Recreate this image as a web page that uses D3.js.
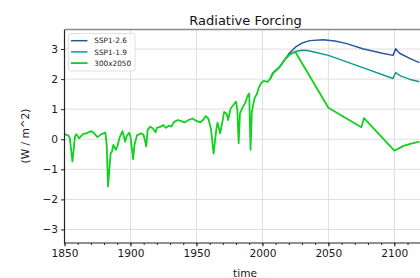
<!DOCTYPE html>
<html>
<head>
<meta charset="utf-8">
<script src="https://cdn.jsdelivr.net/npm/d3@7"></script>
<style>
  body { margin: 0; background: #fff; }
  svg { font-family: "DejaVu Sans", sans-serif; display: block; }
</style>
</head>
<body>
<div id="chart"></div>
<script>
// series data
const seriesNames = ["SSP1-2.6", "SSP1-1.9", "300x2050"];
const seriesColors = ["#2b55a3", "#10998f", "#11d11f"];

const ssp126Years = [2006, 2008, 2013, 2017, 2020, 2025, 2030, 2036, 2046, 2055, 2064, 2076, 2090, 2099, 2101, 2104, 2112, 2119];
const ssp126Values = [2.02, 2.20, 2.40, 2.65, 2.84, 3.06, 3.20, 3.28, 3.31, 3.27, 3.18, 3.01, 2.87, 2.79, 3.01, 2.86, 2.68, 2.55];

const ssp119Years = [2006, 2008, 2013, 2017, 2020, 2025, 2030, 2034, 2040, 2050, 2075, 2099, 2101, 2105, 2112, 2119];
const ssp119Values = [2.02, 2.20, 2.40, 2.65, 2.80, 2.92, 2.96, 2.95, 2.89, 2.79, 2.40, 2.02, 2.22, 2.10, 1.99, 1.91];

const customYears = [1850, 1853, 1854, 1856, 1858, 1859, 1861, 1864, 1867, 1870, 1872, 1875, 1878, 1881, 1882, 1883,
  1885, 1886, 1887, 1889, 1890, 1892, 1894, 1896, 1897, 1899, 1900, 1902, 1903, 1905, 1907, 1908, 1910, 1912, 1913,
  1915, 1917, 1919, 1920, 1923, 1925, 1927, 1929, 1931, 1933, 1936, 1938, 1941, 1944, 1947, 1950, 1953, 1955, 1957,
  1959, 1961, 1963, 1965, 1966, 1968, 1970, 1971, 1973, 1974, 1976, 1978, 1980, 1981, 1982, 1983, 1985, 1987, 1989,
  1990, 1991, 1992, 1994, 1996, 1997, 1999, 2001, 2004, 2006, 2008, 2013, 2017, 2021, 2025, 2050, 2075, 2077, 2100,
  2107, 2112, 2119];
const customValues = [0.17, 0.12, 0.05, -0.74, 0.10, 0.17, 0.03, 0.17, 0.20, 0.27, 0.22, 0.07, 0.17, 0.22, -0.19, -1.57,
  -0.46, -0.41, -0.19, -0.35, -0.24, 0.09, 0.27, -0.08, 0.09, 0.22, 0.09, -0.66, -0.19, 0.14, 0.17, 0.20, 0.14, -0.24, 0.31,
  0.42, 0.36, 0.23, 0.38, 0.42, 0.47, 0.38, 0.45, 0.42, 0.58, 0.64, 0.61, 0.56, 0.64, 0.69, 0.61, 0.56, 0.64, 0.77,
  0.69, 0.35, -0.48, 0.31, 0.55, 0.20, 0.66, 0.91, 0.84, 0.64, 1.03, 1.14, 1.25, 0.97, -0.13, 0.86, 1.06, 1.21, 1.47,
  1.52, -0.35, 0.91, 1.36, 1.52, 1.69, 1.87, 1.94, 1.91, 2.02, 2.20, 2.40, 2.65, 2.82, 2.90, 1.05, 0.40, 0.70, -0.38,
  -0.22, -0.15, -0.08];

const xTicks = [1850, 1900, 1950, 2000, 2050, 2100];
const xMinorTicks = d3.range(1850, 2125, 10);
const yTicks = [-3, -2, -1, 0, 1, 2, 3];

const W = 420, H = 278;
const plotLeft = 64.5, plotTop = 29.5, plotBottom = 243;

const svg = d3.select("#chart").append("svg").attr("width", W).attr("height", H);

const x = d3.scaleLinear().domain([1850, 2124]).range([plotLeft, 426]);
const y = d3.scaleLinear().domain([-3.45, 3.65]).range([plotBottom, plotTop]);

// grid
svg.append("g").selectAll("line").data(xTicks).enter().append("line")
  .attr("x1", d => x(d)).attr("x2", d => x(d)).attr("y1", plotTop).attr("y2", plotBottom)
  .attr("stroke", "#dedede").attr("stroke-width", 1);
svg.append("g").selectAll("line").data(yTicks).enter().append("line")
  .attr("x1", plotLeft).attr("x2", W).attr("y1", d => y(d)).attr("y2", d => y(d))
  .attr("stroke", "#dedede").attr("stroke-width", 1);

// lines
const series = [
  { years: ssp126Years, values: ssp126Values },
  { years: ssp119Years, values: ssp119Values },
  { years: customYears, values: customValues }
];
const line = d3.line().x(d => x(d[0])).y(d => y(d[1]));
series.forEach(function (s, i) {
  const pts = s.years.map((yr, j) => [yr, s.values[j]]);
  svg.append("path").datum(pts)
    .attr("d", line)
    .attr("fill", "none")
    .attr("stroke", seriesColors[i])
    .attr("stroke-width", i == 2 ? 1.8 : 1.5)
    .attr("stroke-linejoin", "round");
});

// axes
const xAxis = svg.append("g").attr("transform", "translate(0," + plotBottom + ")")
  .call(d3.axisBottom(x).tickValues(xTicks).tickFormat(d3.format("d")).tickSize(3.5).tickPadding(3));
svg.append("g").attr("transform", "translate(0," + plotBottom + ")")
  .call(d3.axisBottom(x).tickValues(xMinorTicks).tickFormat("").tickSize(2))
  .select(".domain").remove();
const yAxis = svg.append("g").attr("transform", "translate(" + plotLeft + ",0)")
  .call(d3.axisLeft(y).tickValues(yTicks).tickFormat(d => d < 0 ? "\u2212" + Math.abs(d) : d).tickSize(3.5).tickPadding(3));

svg.selectAll(".tick text").attr("font-size", 10.6).attr("fill", "#1a1a1a").attr("font-family", "DejaVu Sans");
svg.selectAll(".tick line").attr("stroke", "#222");
xAxis.select(".domain").attr("stroke", "#222").attr("stroke-width", 1.2).attr("d", "M" + plotLeft + ",0H" + W);
yAxis.select(".domain").attr("stroke", "#222").attr("stroke-width", 1.2).attr("d", "M0," + plotTop + "V" + plotBottom);

// top spine
svg.append("line").attr("x1", plotLeft).attr("x2", W).attr("y1", plotTop).attr("y2", plotTop)
  .attr("stroke", "#8a8a8a").attr("stroke-width", 1.6);

// title and labels
svg.append("text").attr("x", 245.5).attr("y", 24.5).attr("text-anchor", "middle")
  .attr("font-size", 13).attr("fill", "#111").text("Radiative Forcing");
svg.append("text").attr("x", 245).attr("y", 277).attr("text-anchor", "middle")
  .attr("font-size", 10.6).attr("fill", "#1a1a1a").text("time");
svg.append("text").attr("transform", "translate(29,136) rotate(-90)").attr("text-anchor", "middle")
  .attr("font-size", 10.6).attr("fill", "#1a1a1a").text("(W / m^2)");

// legend
const lg = svg.append("g");
lg.append("rect").attr("x", 68.5).attr("y", 33.5).attr("width", 66.5).attr("height", 37.5)
  .attr("rx", 2).attr("fill", "#fff").attr("fill-opacity", 0.85).attr("stroke", "#d8d8d8").attr("stroke-width", 0.8);
seriesNames.forEach(function (name, i) {
  const yy = 40.7 + i * 11.2;
  lg.append("line").attr("x1", 71).attr("x2", 87.5).attr("y1", yy).attr("y2", yy)
    .attr("stroke", seriesColors[i]).attr("stroke-width", i == 2 ? 1.8 : 1.5);
  lg.append("text").attr("x", 94.3).attr("y", yy + 2.6).attr("font-size", 7.3).attr("fill", "#222").text(name);
});
</script>
</body>
</html>
